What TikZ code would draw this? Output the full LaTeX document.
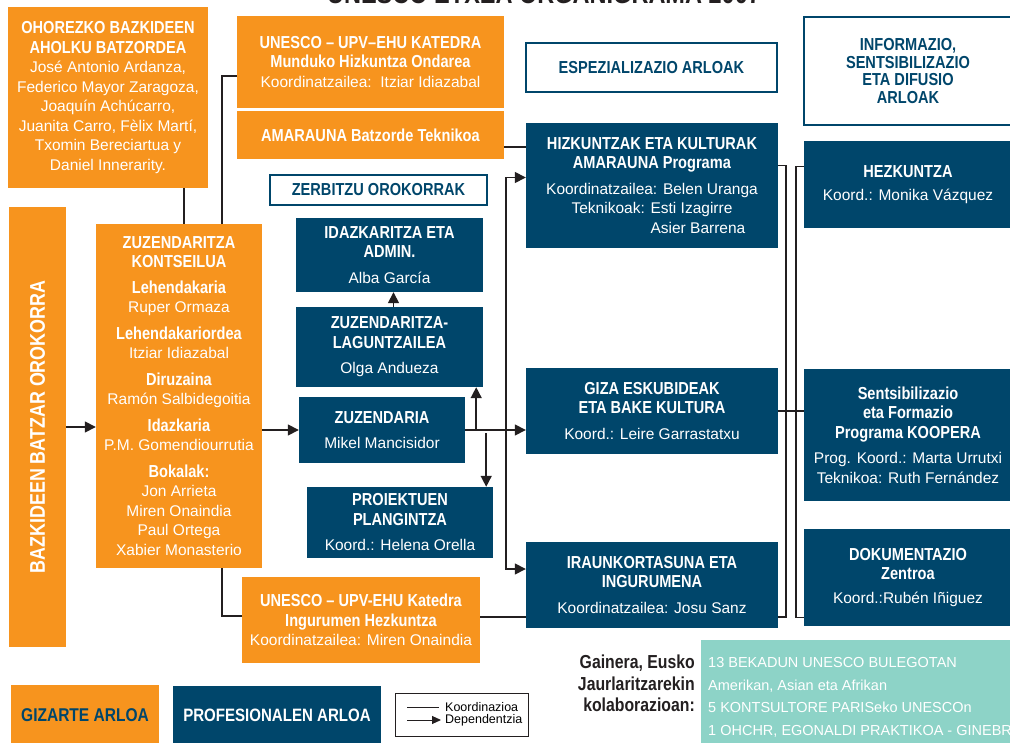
\documentclass[tikz,border=0pt]{standalone}
\usepackage{fontspec}
\setmainfont{Liberation Sans}[BoldFeatures={FakeStretch=0.84,Scale=1.12}]
\usepackage{calc}
\usetikzlibrary{arrows.meta,positioning}

\definecolor{unorange}{RGB}{247,148,30}
\definecolor{unblue}{RGB}{0,70,107}
\definecolor{unteal}{RGB}{141,211,199}
\definecolor{unblack}{RGB}{35,31,32}

\begin{document}
\begin{tikzpicture}[x=1pt,y=-1pt,
    box/.style={rectangle, inner sep=2pt, align=center, font=\fontsize{15.5}{19.5}\selectfont},
    obox/.style={box, fill=unorange, text=white},
    bbox/.style={box, fill=unblue, text=white},
    wbox/.style={box, draw=unblue, line width=1.6pt, fill=white, text=unblue, font=\fontsize{15.5}{17.5}\selectfont\bfseries},
    coord/.style={draw=unblack, line width=1.5pt},
    dep/.style={coord, -{Triangle[length=11pt,width=11pt]}}]
    \useasboundingbox (0,0) rectangle (1010,743);
    \node[font=\fontsize{25}{25}\selectfont\bfseries, text=unblack, anchor=base] (title) at (544,4) {UNESCO ETXEA ORGANIGRAMA 2007};

    \node[obox, minimum width=200pt, minimum height=181pt] (ohorezko) at (108,97.5) {\textbf{OHOREZKO BAZKIDEEN}\\\textbf{AHOLKU BATZORDEA}\\José Antonio Ardanza,\\Federico Mayor Zaragoza,\\Joaquín Achúcarro,\\Juanita Carro, Fèlix Martí,\\Txomin Bereciartua y\\Daniel Innerarity.};
    \node[obox, minimum width=267pt, minimum height=92pt] (katedra) at (370.5,62) {\textbf{UNESCO – UPV–EHU KATEDRA}\\\textbf{Munduko Hizkuntza Ondarea}\\Koordinatzailea:\ \ Itziar Idiazabal};
    \node[obox, minimum width=267pt, minimum height=48pt] (amarauna) at (370.5,135) {\textbf{AMARAUNA Batzorde Teknikoa}};
    \node[wbox, minimum width=251pt, minimum height=49pt] (espezializazio) at (651.5,67.5) {ESPEZIALIZAZIO ARLOAK};
    \node[wbox, minimum width=217pt, minimum height=30pt] (zerbitzu) at (378.5,190) {ZERBITZU OROKORRAK};
    \node[wbox, minimum width=208pt, minimum height=108pt] (informazio) at (908,71) {INFORMAZIO,\\SENTSIBILIZAZIO\\ETA DIFUSIO\\ARLOAK};

    \node[obox, minimum width=57pt, minimum height=440pt] (bazkideen) at (37.5,427) {};
    \node[rotate=90, text=white, font=\fontsize{19}{20}\selectfont\bfseries] (bazkideentxt) at (bazkideen.center) {BAZKIDEEN BATZAR OROKORRA};
    \node[obox, minimum width=166pt, minimum height=344pt] (kontseilua) at (179,396) {\textbf{ZUZENDARITZA}\\\textbf{KONTSEILUA}\\[6pt]\textbf{Lehendakaria}\\Ruper Ormaza\\[7pt]\textbf{Lehendakariordea}\\Itziar Idiazabal\\[7pt]\textbf{Diruzaina}\\Ramón Salbidegoitia\\[7pt]\textbf{Idazkaria}\\P.M. Gomendiourrutia\\[7pt]\textbf{Bokalak:}\\Jon Arrieta\\Miren Onaindia\\Paul Ortega\\Xabier Monasterio};
    \node[obox, minimum width=238pt, minimum height=86pt] (ingurumen) at (361,620) {\textbf{UNESCO – UPV-EHU Katedra}\\\textbf{Ingurumen Hezkuntza}\\Koordinatzailea: Miren Onaindia};

    \node[bbox, minimum width=187pt, minimum height=74pt] (idazkaritza) at (389.5,255) {\textbf{IDAZKARITZA ETA}\\\textbf{ADMIN.}\\[6pt]Alba García};
    \node[bbox, minimum width=187pt, minimum height=80pt] (laguntzailea) at (389.5,347) {\textbf{ZUZENDARITZA-}\\\textbf{LAGUNTZAILEA}\\[6pt]Olga Andueza};
    \node[bbox, minimum width=166pt, minimum height=66pt] (zuzendaria) at (382,430) {\textbf{ZUZENDARIA}\\[6pt]Mikel Mancisidor};
    \node[bbox, minimum width=186pt, minimum height=71pt] (proiektuen) at (400,522.5) {\textbf{PROIEKTUEN}\\\textbf{PLANGINTZA}\\[6pt]Koord.: Helena Orella};

    \node[bbox, minimum width=252pt, minimum height=125pt] (hizkuntzak) at (652,185.5) {\textbf{HIZKUNTZAK ETA KULTURAK}\\\textbf{AMARAUNA Programa}\\[6pt]Koordinatzailea: Belen Uranga\\Teknikoak: Esti Izagirre\\\makebox[\widthof{Teknikoak: Esti Izagirre}][l]{\phantom{Teknikoak: }Asier Barrena}};
    \node[bbox, minimum width=252pt, minimum height=86pt] (giza) at (652,411) {\textbf{GIZA ESKUBIDEAK}\\\textbf{ETA BAKE KULTURA}\\[6pt]Koord.: Leire Garrastatxu};
    \node[bbox, minimum width=252pt, minimum height=86pt] (iraunkortasuna) at (652,585) {\textbf{IRAUNKORTASUNA ETA}\\\textbf{INGURUMENA}\\[6pt]Koordinatzailea: Josu Sanz};

    \node[bbox, minimum width=208pt, minimum height=87pt] (hezkuntza) at (908,184.5) {\textbf{HEZKUNTZA}\\[4pt]Koord.: Monika Vázquez};
    \node[bbox, minimum width=208pt, minimum height=132pt] (sentsib) at (908,435) {\textbf{Sentsibilizazio}\\\textbf{eta Formazio}\\\textbf{Programa KOOPERA}\\[6pt]Prog. Koord.: Marta Urrutxi\\Teknikoa: Ruth Fernández};
    \node[bbox, minimum width=208pt, minimum height=97pt] (dokumentazio) at (908,577.5) {\textbf{DOKUMENTAZIO}\\\textbf{Zentroa}\\[4pt]Koord.:Rubén Iñiguez};

    % legend and footer
    \node[obox, text=unblue, minimum width=148pt, minimum height=60pt, font=\fontsize{16.5}{17}\selectfont\bfseries] (gizarte) at (85,715) {GIZARTE ARLOA};
    \node[bbox, minimum width=208pt, minimum height=59pt, font=\fontsize{16}{17}\selectfont\bfseries] (profesional) at (277,715.5) {PROFESIONALEN ARLOA};
    \node[draw=unblack, line width=0.8pt, minimum width=133pt, minimum height=43pt] (legend) at (461.5,714.5) {};
    \node[anchor=west, inner sep=0pt, font=\fontsize{12.5}{13}\selectfont] (koord) at (445,707) {Koordinazioa};
    \node[anchor=west, inner sep=0pt, font=\fontsize{12.5}{13}\selectfont] (depend) at (445,720) {Dependentzia};
    \node[anchor=north east, align=right, inner sep=0pt, text=unblack, font=\fontsize{16.8}{21.5}\selectfont\bfseries] (gainera) at (695,655) {Gainera, Eusko\\Jaurlaritzarekin\\kolaborazioan:};
    \node[fill=unteal, minimum width=311pt, minimum height=105pt] (teal) at (856.5,692.5) {};
    \node[anchor=north west, align=left, inner sep=0pt, text=white, font=\fontsize{14.5}{22.7}\selectfont] (tealtxt) at (708,657) {13 BEKADUN UNESCO BULEGOTAN\\Amerikan, Asian eta Afrikan\\5 KONTSULTORE PARISeko UNESCOn\\1 OHCHR, EGONALDI PRAKTIKOA - GINEBRAN};

    \draw[coord, line width=1pt] ([xshift=-38pt]koord.west) -- ([xshift=-6pt]koord.west);
    \draw[coord, line width=1pt, -{Triangle[length=9pt,width=8pt]}] ([xshift=-38pt]depend.west) -- ([xshift=-4pt]depend.west);

    % connectors
    \draw[dep] (bazkideen.east) -- (bazkideen.east -| kontseilua.west);
    \draw[dep] (kontseilua.east |- zuzendaria.east) -- (zuzendaria.west);
    \draw[coord] ([xshift=-24pt]ohorezko.south east) -- ([xshift=-24pt]ohorezko.south east |- kontseilua.north);
    \draw[coord] ([yshift=-14pt]katedra.west) -| ([xshift=-40pt]kontseilua.north east);
    \draw[coord] ([xshift=-40pt]kontseilua.south east) |- ([yshift=4pt]ingurumen.west);
    \draw[coord] ([yshift=3pt]ingurumen.east) -- ([yshift=3pt]ingurumen.east -| iraunkortasuna.west);
    \draw[coord] ([yshift=-12pt]amarauna.east) -- ([yshift=-12pt]amarauna.east -| hizkuntzak.west);
    \draw[dep] ([xshift=4pt]laguntzailea.north) -- ([xshift=4pt]idazkaritza.south);

    \draw[dep] (zuzendaria.east) -- (zuzendaria.east -| giza.west);
    \draw[dep] ([xshift=11pt]zuzendaria.east) -- ([xshift=11pt]zuzendaria.east |- laguntzailea.south);
    \draw[dep] ([xshift=21pt,yshift=-3pt]zuzendaria.east) -- ([xshift=21pt]zuzendaria.east |- proiektuen.north);
    \coordinate (bus) at ([xshift=-20pt]giza.west);
    \draw[dep] (bus |- zuzendaria.east) |- ([yshift=8pt]hizkuntzak.west);
    \draw[dep] (bus |- zuzendaria.east) |- ([yshift=16pt]iraunkortasuna.west);

    \coordinate (b1) at ([xshift=8pt]giza.east);
    \coordinate (b2) at ([xshift=-8pt]sentsib.west);
    \draw[coord] ([yshift=20pt]hizkuntzak.east) -| (b1) |- ([yshift=-32pt]iraunkortasuna.east);
    \draw[coord] ([yshift=18pt]hezkuntza.west) -| (b2) |- ([yshift=-40pt]dokumentazio.west);
    \draw[coord] (giza.east) -- (giza.east -| sentsib.west);
\end{tikzpicture}
\end{document}
